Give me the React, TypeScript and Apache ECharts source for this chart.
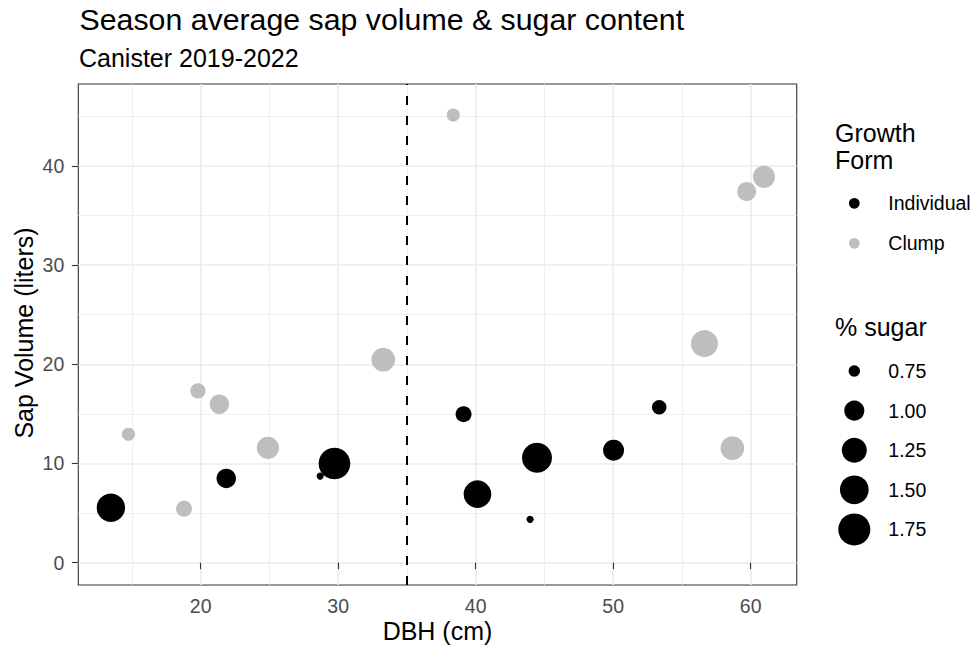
import React, { useEffect, useRef } from "react";
import * as echarts from "echarts";

// ---- data ----
const dbhIndividual = [13.47, 21.86, 28.69, 29.73, 39.12, 40.13, 43.96, 44.46, 50.03, 53.35];
const sapIndividual = [5.54, 8.49, 8.73, 10.0, 14.97, 6.91, 4.37, 10.57, 11.34, 15.67];
const sugarIndividual = [1.47, 0.97, 0.72, 1.72, 0.85, 1.42, 0.72, 1.59, 1.04, 0.81];

const dbhClump = [14.75, 18.79, 19.8, 21.36, 24.89, 33.28, 38.37, 56.64, 58.67, 59.71, 60.97];
const sapClump = [12.95, 5.44, 17.31, 15.97, 11.58, 20.47, 45.13, 22.08, 11.55, 37.41, 38.89];
const sugarClump = [0.78, 0.85, 0.83, 0.97, 1.1, 1.18, 0.78, 1.38, 1.18, 0.95, 1.09];

const xTicks = [20, 30, 40, 50, 60];
const yTicks = [0, 10, 20, 30, 40];
const sugarLegendValues = [0.75, 1.0, 1.25, 1.5, 1.75];
const growthForms = ["Individual", "Clump"];
const thresholdDbh = 35;

const X_MIN = 11.1;
const X_MAX = 63.35;
const Y_MIN = -2.25;
const Y_MAX = 48.25;

// ---- styles ----
const FONT = "'Liberation Sans', Arial, Helvetica, sans-serif";
const COLOR_IND = "#000000";
const COLOR_CLUMP = "#BEBEBE";
const GRID_COLOR = "#EBEBEB";
const TICK_COLOR = "#4D4D4D";

const sizeFor = (v: number) => 7.15 + 24.5 * Math.sqrt(Math.max(v - 0.72, 0));

export default function App() {
  const ref = useRef<HTMLDivElement>(null);

  useEffect(() => {
    if (!ref.current) return;
    const chart = echarts.init(ref.current, null, { renderer: "svg" });

    const indData = dbhIndividual.map((x, i) => [x, sapIndividual[i], sugarIndividual[i]]);
    const clumpData = dbhClump.map((x, i) => [x, sapClump[i], sugarClump[i]]);

    const legendX = 854.3;
    const legendTextX = 888.3;
    const formY = [203.3, 243.3];
    const formColors = [COLOR_IND, COLOR_CLUMP];
    const sizeY0 = 371;
    const sizeStep = 39.6;

    const graphics: any[] = [
      {
        type: "text",
        x: 79.5,
        y: 19.1,
        style: { text: "Season average sap volume & sugar content", font: `30.3px ${FONT}`, fill: "#000", textAlign: "left", textVerticalAlign: "middle" },
      },
      {
        type: "text",
        x: 79,
        y: 58,
        style: { text: "Canister 2019-2022", font: `25px ${FONT}`, fill: "#000", textAlign: "left", textVerticalAlign: "middle" },
      },
      {
        type: "text",
        x: 437.5,
        y: 630.6,
        style: { text: "DBH (cm)", font: `25px ${FONT}`, fill: "#000", textAlign: "center", textVerticalAlign: "middle" },
      },
      {
        type: "text",
        x: 24,
        y: 333,
        rotation: Math.PI / 2,
        style: { text: "Sap Volume (liters)", font: `25px ${FONT}`, fill: "#000", textAlign: "center", textVerticalAlign: "middle" },
      },
      {
        type: "text",
        x: 835,
        y: 133.2,
        style: { text: "Growth", font: `25px ${FONT}`, fill: "#000", textAlign: "left", textVerticalAlign: "middle" },
      },
      {
        type: "text",
        x: 835,
        y: 159.8,
        style: { text: "Form", font: `25px ${FONT}`, fill: "#000", textAlign: "left", textVerticalAlign: "middle" },
      },
      {
        type: "text",
        x: 835,
        y: 326.5,
        style: { text: "% sugar", font: `25px ${FONT}`, fill: "#000", textAlign: "left", textVerticalAlign: "middle" },
      },
    ];

    growthForms.forEach((name, i) => {
      graphics.push({
        type: "circle",
        shape: { cx: legendX, cy: formY[i], r: 5.35 },
        style: { fill: formColors[i] },
      });
      graphics.push({
        type: "text",
        x: legendTextX,
        y: formY[i],
        style: { text: name, font: `19.5px ${FONT}`, fill: "#000", textAlign: "left", textVerticalAlign: "middle" },
      });
    });

    sugarLegendValues.forEach((v, i) => {
      const cy = sizeY0 + i * sizeStep;
      graphics.push({
        type: "circle",
        shape: { cx: legendX, cy, r: sizeFor(v) / 2 },
        style: { fill: "#000" },
      });
      graphics.push({
        type: "text",
        x: legendTextX,
        y: cy,
        style: { text: v.toFixed(2), font: `19.5px ${FONT}`, fill: "#000", textAlign: "left", textVerticalAlign: "middle" },
      });
    });

    const axisCommon = {
      type: "value" as const,
      axisLine: { show: false },
      axisTick: { show: true, length: 6.5, lineStyle: { color: "#333333", width: 1.1 } },
      splitLine: { show: true, lineStyle: { color: GRID_COLOR, width: 1.6 } },
      minorTick: { show: false, splitNumber: 2 },
      minorSplitLine: { show: true, lineStyle: { color: GRID_COLOR, width: 0.8 } },
    };

    chart.setOption({
      animation: false,
      backgroundColor: "#FFFFFF",
      textStyle: { fontFamily: FONT },
      grid: {
        left: 78.3,
        right: 179.3,
        top: 84,
        bottom: 64,
        show: true,
        borderColor: "#333333",
        borderWidth: 1.1,
        backgroundColor: "#FFFFFF",
        containLabel: false,
      },
      xAxis: {
        ...axisCommon,
        min: X_MIN,
        max: X_MAX,
        splitNumber: 5,
        axisTick: { ...axisCommon.axisTick, customValues: xTicks },
        axisLabel: {
          customValues: xTicks,
          color: TICK_COLOR,
          fontSize: 19.5,
          fontFamily: FONT,
          margin: 11,
          showMinLabel: true,
          showMaxLabel: true,
        },
      },
      yAxis: {
        ...axisCommon,
        min: Y_MIN,
        max: Y_MAX,
        splitNumber: 5,
        axisTick: { ...axisCommon.axisTick, customValues: yTicks },
        axisLabel: {
          customValues: yTicks,
          color: TICK_COLOR,
          fontSize: 19.5,
          fontFamily: FONT,
          margin: 14,
        },
      },
      graphic: graphics,
      series: [
        {
          name: growthForms[0],
          type: "scatter",
          data: indData,
          symbol: "circle",
          symbolSize: (val: number[]) => sizeFor(val[2]),
          itemStyle: { color: COLOR_IND, opacity: 1 },
          markLine: {
            silent: true,
            symbol: ["none", "none"],
            label: { show: false },
            lineStyle: { color: "#000000", type: [9, 11], width: 2 },
            data: [{ xAxis: thresholdDbh }],
          },
        },
        {
          name: growthForms[1],
          type: "scatter",
          data: clumpData,
          symbol: "circle",
          symbolSize: (val: number[]) => sizeFor(val[2]),
          itemStyle: { color: COLOR_CLUMP, opacity: 1 },
        },
      ],
    });

    return () => chart.dispose();
  }, []);

  return (
    <div
      ref={ref}
      style={{ position: "fixed", left: 0, top: 0, width: 976, height: 649, background: "#fff" }}
    />
  );
}
